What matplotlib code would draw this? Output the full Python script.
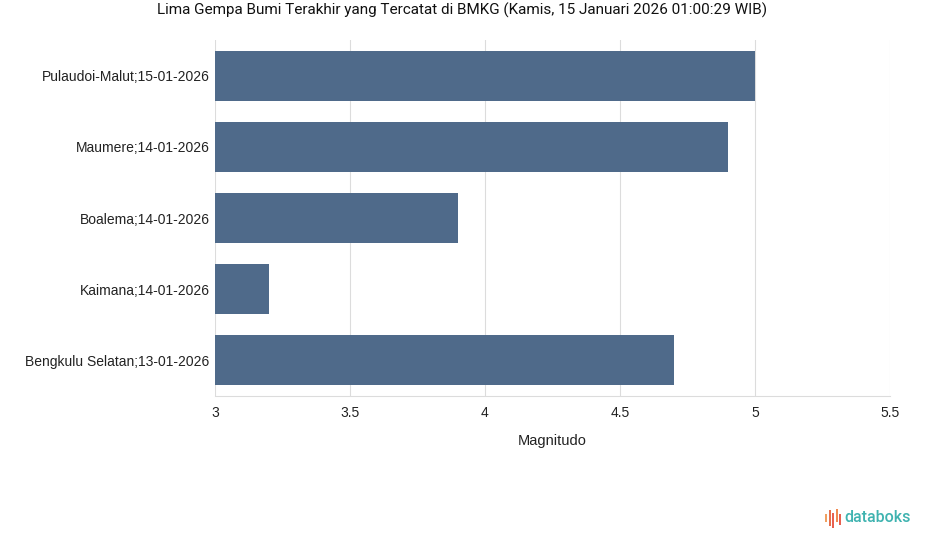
import matplotlib.pyplot as plt
import matplotlib.patches as patches

# data
locations = [
    "Pulaudoi-Malut;15-01-2026",
    "Maumere;14-01-2026",
    "Boalema;14-01-2026",
    "Kaimana;14-01-2026",
    "Bengkulu Selatan;13-01-2026",
]
magnitudes = [5.0, 4.9, 3.9, 3.2, 4.7]
x_ticks = [3, 3.5, 4, 4.5, 5, 5.5]
x_tick_labels = ["3", "3.5", "4", "4.5", "5", "5.5"]

BAR = "#4f6a8a"
GRID = "#dcdcdc"

fig = plt.figure(figsize=(9.25, 5.47), dpi=100, facecolor="white")
ax = fig.add_axes([215 / 925, 1 - 396 / 547, 675 / 925, 356 / 547])

ypos = list(range(len(locations)))[::-1]
ax.barh(ypos, [m - 3 for m in magnitudes], left=3, height=0.7, color=BAR, zorder=2)

ax.set_xlim(3, 5.5)
ax.set_ylim(-0.5, 4.5)
ax.set_xticks(x_ticks)
ax.set_xticklabels(x_tick_labels, fontsize=10, family="Liberation Sans")
ax.set_yticks(ypos)
ax.set_yticklabels(locations, fontsize=10, family="Liberation Sans")
ax.tick_params(axis="both", length=0, colors="#222222")
ax.tick_params(axis="x", pad=7)
ax.tick_params(axis="y", pad=4)
ax.grid(axis="x", color=GRID, linewidth=0.8, zorder=0)
for s in ["top", "right", "left"]:
    ax.spines[s].set_visible(False)
ax.spines["bottom"].set_color(GRID)
ax.spines["bottom"].set_linewidth(0.8)

ax.set_xlabel("Magnitudo", fontsize=10.5, family="Liberation Sans", labelpad=10, color="#222222")

fig.text(462 / 925, 1 - 10 / 547,
         "Lima Gempa Bumi Terakhir yang Tercatat di BMKG (Kamis, 15 Januari 2026 01:00:29 WIB)",
         ha="center", va="center", fontsize=11, family="Roboto", color="#111111")

# logo
lx = fig.add_axes([0, 0, 1, 1], facecolor="none")
lx.set_xlim(0, 925)
lx.set_ylim(547, 0)
lx.axis("off")
logo_bars = [(825, 514, 522, "#f0a060"), (828.5, 510, 526, "#e8704c"), (832, 513, 528, "#e86050"),
             (835.5, 509, 522, "#f08a50"), (839, 514, 525, "#e86050")]
for x, y0, y1, c in logo_bars:
    lx.add_patch(patches.Rectangle((x, y0), 2, y1 - y0, facecolor=c, edgecolor="none"))
lx.text(844, 518, "databoks", fontsize=11.5, family="Roboto", color="#3fb3b0",
        va="center", ha="left", weight="medium")

fig.savefig("out.png", dpi=100, facecolor="white")
